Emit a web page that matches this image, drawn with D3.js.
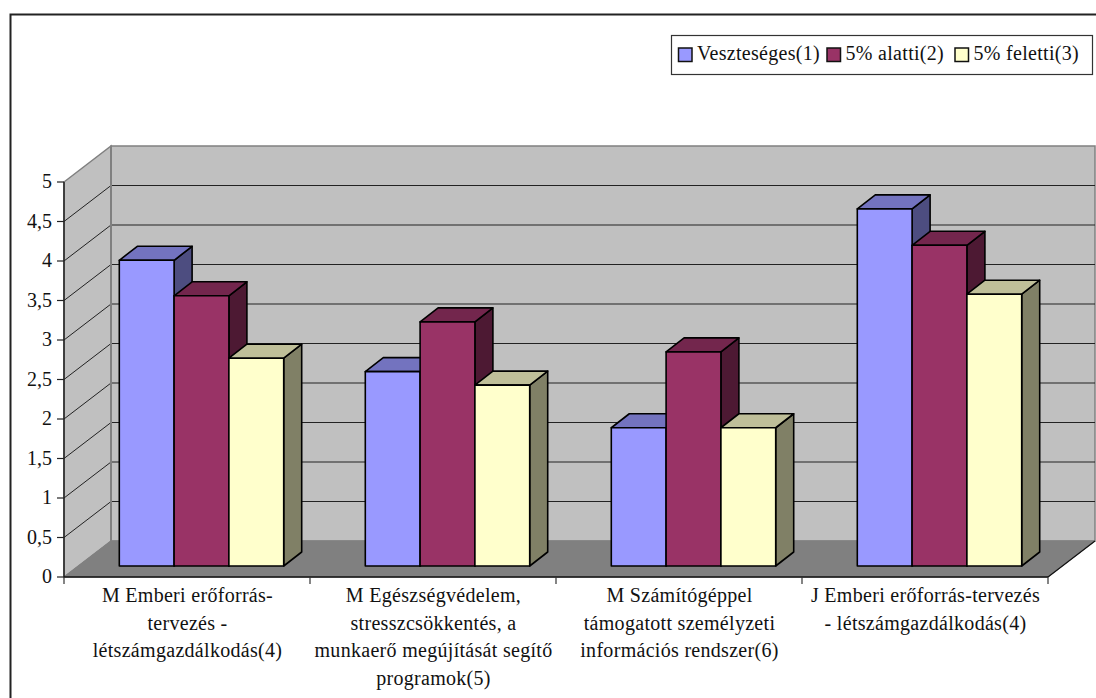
<!DOCTYPE html>
<html>
<head>
<meta charset="utf-8">
<script src="https://cdn.jsdelivr.net/npm/d3@7"></script>
<style>
  html, body { margin: 0; padding: 0; background: #fff; overflow: hidden; }
  svg { display: block; }
  text { font-family: "Liberation Serif", serif; fill: #111; }
</style>
</head>
<body>
<svg id="chart" width="1096" height="698"></svg>
<script>
const categories = [
  ["M Emberi erőforrás-", "tervezés -", "létszámgazdálkodás(4)"],
  ["M Egészségvédelem,", "stresszcsökkentés, a", "munkaerő megújítását segítő", "programok(5)"],
  ["M Számítógéppel", "támogatott személyzeti", "információs rendszer(6)"],
  ["J Emberi erőforrás-tervezés", "- létszámgazdálkodás(4)"]
];
const seriesNames = ["Veszteséges(1)", "5% alatti(2)", "5% feletti(3)"];
const veszteseges = [3.87, 2.46, 1.75, 4.52];
const alatti = [3.42, 3.09, 2.71, 4.06];
const feletti = [2.63, 2.29, 1.75, 3.44];
const yTicks = [0, 0.5, 1, 1.5, 2, 2.5, 3, 3.5, 4, 4.5, 5];
const faceColors = ["#9999ff", "#993366", "#ffffcc"];
const topColors = ["#7373bf", "#73264d", "#bfbf99"];
const sideColors = ["#4d4d80", "#4d1933", "#808066"];

const svg = d3.select("#chart");
const series = [veszteseges, alatti, feletti];

// Oblique projection of the 3D box: floor depth and bar depth
const depth = { dx: 47, dy: -36 };
const barDepth = { dx: 18, dy: -14 };
const barInset = { dx: 14.5, dy: -11 };

const x = d3.scaleBand().domain(d3.range(categories.length)).range([64, 1048]);
const y = d3.scaleLinear().domain([0, 5]).range([577, 182]);
const inner = d3.scaleBand().domain(d3.range(series.length)).range([0, 164.4]);

const poly = pts => pts.map(p => p.join(",")).join(" ");
const x0 = x.range()[0], x1 = x.range()[1];
const yBase = y(0), yTop = y(5);

// Outer frame of the chart area
svg.append("path")
  .attr("d", "M10.5,698V14.5H1096")
  .attr("fill", "none").attr("stroke", "#222").attr("stroke-width", 2);

// Walls and floor
svg.append("polygon")
  .attr("points", poly([[x0 + depth.dx, yTop + depth.dy], [x1 + depth.dx, yTop + depth.dy], [x1 + depth.dx, yBase + depth.dy], [x0 + depth.dx, yBase + depth.dy]]))
  .attr("fill", "#c0c0c0").attr("stroke", "#808080").attr("stroke-width", 1.5);
svg.append("polygon")
  .attr("points", poly([[x0, yTop], [x0 + depth.dx, yTop + depth.dy], [x0 + depth.dx, yBase + depth.dy], [x0, yBase]]))
  .attr("fill", "#c0c0c0").attr("stroke", "#808080").attr("stroke-width", 1.5);
svg.append("polygon")
  .attr("points", poly([[x0, yBase], [x1, yBase], [x1 + depth.dx, yBase + depth.dy], [x0 + depth.dx, yBase + depth.dy]]))
  .attr("fill", "#808080").attr("stroke", "#808080");

// Gridlines across the side and back walls
yTicks.filter(t => t > 0 && t < 5).forEach(t => {
  svg.append("path")
    .attr("d", `M${x0},${y(t)}L${x0 + depth.dx},${y(t) + depth.dy}H${x1 + depth.dx}`)
    .attr("fill", "none").attr("stroke", "#222").attr("stroke-width", 1);
});

// Redraw the back-left corner above the gridlines
svg.append("line")
  .attr("x1", x0 + depth.dx).attr("x2", x0 + depth.dx)
  .attr("y1", yTop + depth.dy).attr("y2", yBase + depth.dy)
  .attr("stroke", "#808080").attr("stroke-width", 2);

// Bars stand inset from the front edge, so their tops shift with the inset too
categories.forEach((c, i) => {
  series.forEach((vals, s) => {
    const left = x(i) + x.bandwidth() / 2 - 164.4 / 2 + barInset.dx + inner(s);
    const right = left + inner.bandwidth();
    const bottom = yBase + barInset.dy;
    const top = y(vals[i]) + barInset.dy;
    const g = svg.append("g").attr("stroke", "#000").attr("stroke-width", 1.6).attr("stroke-linejoin", "round");
    g.append("polygon")
      .attr("points", poly([[right, top], [right + barDepth.dx, top + barDepth.dy], [right + barDepth.dx, bottom + barDepth.dy], [right, bottom]]))
      .attr("fill", sideColors[s]);
    g.append("polygon")
      .attr("points", poly([[left, top], [left + barDepth.dx, top + barDepth.dy], [right + barDepth.dx, top + barDepth.dy], [right, top]]))
      .attr("fill", topColors[s]);
    g.append("rect")
      .attr("x", left).attr("y", top)
      .attr("width", right - left).attr("height", bottom - top)
      .attr("fill", faceColors[s]);
  });
});

// Value axis
const yAxis = svg.append("g");
yAxis.append("line").attr("x1", x0).attr("x2", x0).attr("y1", yTop).attr("y2", yBase).attr("stroke", "#222").attr("stroke-width", 1.5);
yTicks.forEach(t => {
  yAxis.append("line").attr("x1", x0 - 7).attr("x2", x0).attr("y1", y(t)).attr("y2", y(t)).attr("stroke", "#222").attr("stroke-width", 1.2);
  yAxis.append("text").attr("x", x0 - 12).attr("y", y(t) + 6)
    .attr("text-anchor", "end").attr("font-size", 20)
    .text(String(t).replace(".", ","));
});

// Category axis
const xAxis = svg.append("g");
xAxis.append("line").attr("x1", x0).attr("x2", x1).attr("y1", yBase).attr("y2", yBase).attr("stroke", "#111").attr("stroke-width", 1.5);
xAxis.append("line").attr("x1", x1).attr("x2", x1 + depth.dx).attr("y1", yBase).attr("y2", yBase + depth.dy).attr("stroke", "#111").attr("stroke-width", 1.2);
d3.range(categories.length + 1).forEach(i => {
  const px = i < categories.length ? x(i) : x1;
  xAxis.append("line").attr("x1", px).attr("x2", px).attr("y1", yBase).attr("y2", yBase + 7).attr("stroke", "#333").attr("stroke-width", 1.2);
});
categories.forEach((lines, i) => {
  const t = xAxis.append("text").attr("text-anchor", "middle").attr("font-size", 20).attr("letter-spacing", 0.3);
  lines.forEach((line, k) => {
    t.append("tspan").attr("x", x(i) + x.bandwidth() / 2 + 0.5).attr("y", 602 + k * 27.7).text(line);
  });
});

// Legend
const legend = svg.append("g");
legend.append("rect").attr("x", 671.5).attr("y", 35.5).attr("width", 421).attr("height", 39)
  .attr("fill", "#fff").attr("stroke", "#333").attr("stroke-width", 1.2);
const swatchX = [678.5, 827, 955];
seriesNames.forEach((name, s) => {
  legend.append("rect").attr("x", swatchX[s]).attr("y", 48).attr("width", 13.5).attr("height", 13.5)
    .attr("fill", faceColors[s]).attr("stroke", "#111").attr("stroke-width", 1.5);
  legend.append("text").attr("x", swatchX[s] + 18.5).attr("y", 60).attr("font-size", 20).attr("letter-spacing", 0.3).text(name);
});
</script>
</body>
</html>
